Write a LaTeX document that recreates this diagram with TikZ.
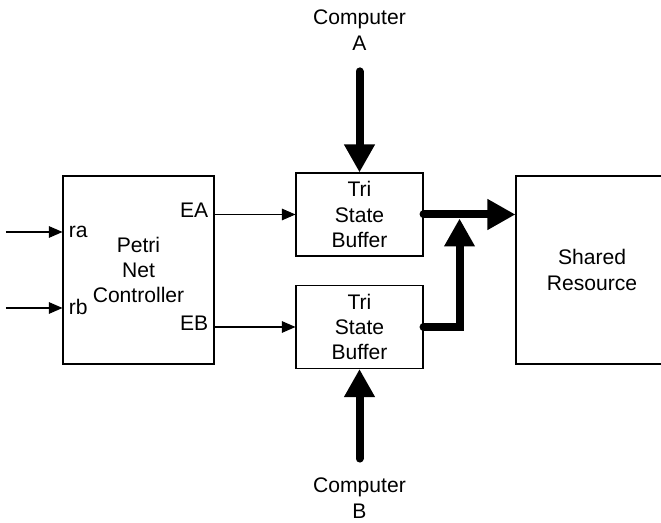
\documentclass[tikz,border=0pt]{standalone}
\usepackage{fontspec}
\setmainfont{Liberation Sans}
\usetikzlibrary{arrows.meta}

\begin{document}
\begin{tikzpicture}[>={Triangle[length=2.7mm, width=2.3mm]}, line width=0.6pt,
    font=\fontsize{12}{14.4}\selectfont,
    block/.style={draw, align=center, minimum width=2.54cm, minimum height=1.66cm},
    bigbox/.style={draw, align=center, minimum height=3.76cm},
    bus/.style={line width=1.6mm, line cap=round, -{Triangle[length=5.6mm, width=5.8mm]}}]
  \useasboundingbox (0, 0) rectangle (13.22, 10.46);

  \node[bigbox, minimum width=3.02cm] (petri) at (2.77, 5.06) {Petri\\Net\\Controller};
  \node[block] (bufA) at (7.19, 6.17) {Tri\\State\\Buffer};
  \node[block] (bufB) at (7.19, 3.92) {Tri\\State\\Buffer};
  \node[bigbox, minimum width=3.04cm] (shared) at (11.84, 5.06) {Shared\\Resource};
  \node[align=center] (compA) at (7.19, 9.86) {Computer\\A};
  \node[align=center] (compB) at (7.19, 0.5) {Computer\\B};

  % request lines into the controller
  \coordinate (raIn) at (0.12, 5.82);
  \coordinate (rbIn) at (0.12, 4.30);
  \node[anchor=base west, yshift=-1.1mm] (ra) at (raIn -| petri.west) {ra};
  \node[anchor=base west, yshift=-1.4mm] (rb) at (rbIn -| petri.west) {rb};
  \draw[->] (raIn) -- (raIn -| petri.west);
  \draw[->] (rbIn) -- (rbIn -| petri.west);

  % enable lines to the buffers
  \node[anchor=base east, yshift=-0.7mm] (EA) at (bufA.west -| petri.east) {EA};
  \node[anchor=base east, yshift=-0.8mm] (EB) at (bufB.west -| petri.east) {EB};
  \draw[->] (bufA.west -| petri.east) -- (bufA.west);
  \draw[->] (bufB.west -| petri.east) -- (bufB.west);

  % data buses
  \draw[bus, shorten <=3mm] (compA.south) -- (bufA.north);
  \draw[bus, shorten <=2.6mm] (compB.north) -- (bufB.south);
  \draw[bus] (bufA.east) -- (bufA.east -| shared.west);
  \draw[bus] (bufB.east) -| ([xshift=7.2mm, yshift=-0.8mm]bufA.east);
\end{tikzpicture}
\end{document}
